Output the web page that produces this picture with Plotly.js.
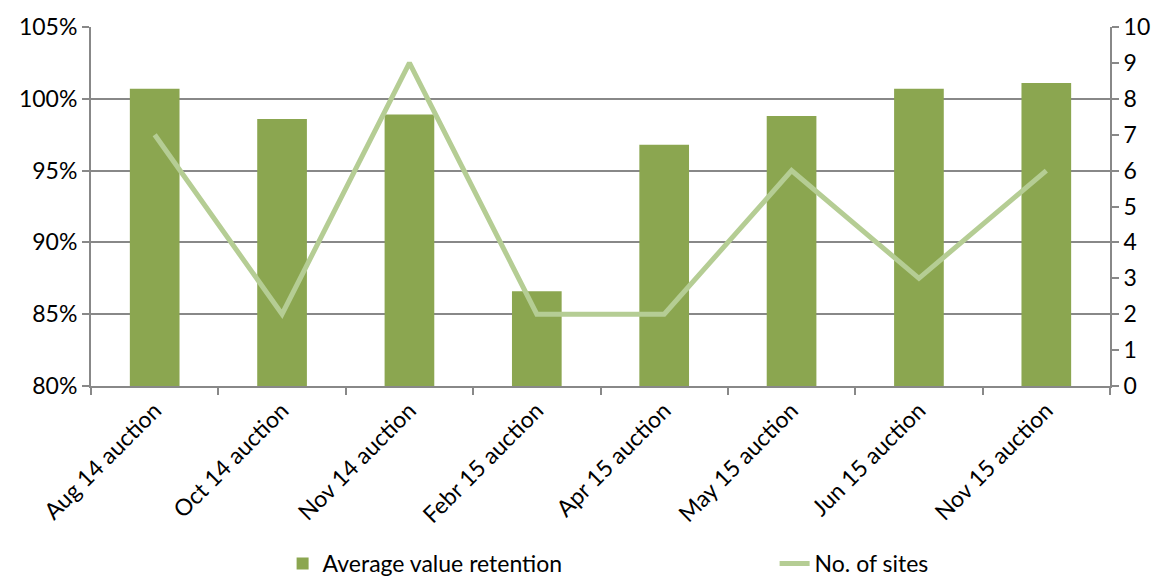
<!DOCTYPE html>
<html><head><meta charset="utf-8">
<script src="https://cdn.plot.ly/plotly-3.0.1.min.js"></script>
<style>html,body{margin:0;padding:0;background:#fff;}#chart{width:1163px;height:584px;}</style>
</head><body><div id="chart"></div>
<script>
const categories = ["Aug 14 auction","Oct 14 auction","Nov 14 auction","Febr 15 auction","Apr 15 auction","May 15 auction","Jun 15 auction","Nov 15 auction"];
const retention = [1.007, 0.986, 0.989, 0.866, 0.968, 0.988, 1.007, 1.011];
const sites = [7, 2, 9, 2, 2, 6, 3, 6];
const leftTicks = [0.80, 0.85, 0.90, 0.95, 1.00, 1.05];
const leftTickText = ["80%","85%","90%","95%","100%","105%"];
const rightTicks = [0,1,2,3,4,5,6,7,8,9,10];

const font = {family: "Lato, 'Open Sans', sans-serif", size: 23, color: "#000"};
const data = [
  {type:"bar", x:categories, y:retention, name:"Average value retention",
   marker:{color:"#8BA650"}, yaxis:"y"},
  {type:"scatter", mode:"lines", x:categories, y:sites, name:"No. of sites",
   line:{color:"#B5CD94", width:5}, yaxis:"y2"}
];
const layout = {
  width:1163, height:584,
  margin:{l:91, r:53, t:27, b:198, autoexpand:false},
  paper_bgcolor:"#fff", plot_bgcolor:"#fff",
  font: font,
  bargap:0.61,
  showlegend:true,
  legend:{orientation:"h", xref:"container", yref:"container", x:0.243, xanchor:"left", y:0.035, yanchor:"middle",
          entrywidth:447, entrywidthmode:"pixels", font:font, tracegroupgap:0},
  xaxis:{type:"category", tickangle:-45, showgrid:false, showline:true, linecolor:"#888", linewidth:2,
         ticks:"outside", tickson:"boundaries", ticklen:7, tickcolor:"#888", tickwidth:2, tickfont:font},
  yaxis:{range:[0.80,1.05], tickvals:leftTicks, ticktext:leftTickText, showgrid:true, gridcolor:"#888", gridwidth:2,
         showline:true, linecolor:"#888", linewidth:2, ticks:"outside", ticklen:7, tickcolor:"#888", tickwidth:2,
         zeroline:false, tickfont:font},
  yaxis2:{range:[0,10], tickvals:rightTicks, overlaying:"y", side:"right", showgrid:false,
          showline:true, linecolor:"#888", linewidth:2, ticks:"outside", ticklen:7, tickcolor:"#888", tickwidth:2,
          zeroline:false, tickfont:font}
};
Plotly.newPlot("chart", data, layout, {displayModeBar:false, staticPlot:true});
</script></body></html>
